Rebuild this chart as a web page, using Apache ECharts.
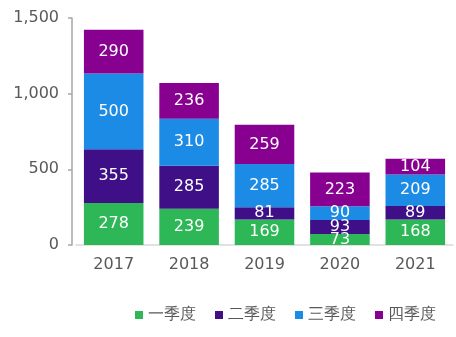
<!DOCTYPE html>
<html>
<head>
<meta charset="utf-8">
<script src="https://cdn.jsdelivr.net/npm/echarts@6/dist/echarts.min.js"></script>
<style>
html,body{margin:0;padding:0;background:#fff;}
#chart{width:456px;height:337px;}
</style>
</head>
<body>
<div id="chart"></div>
<script>
const years = ['2017', '2018', '2019', '2020', '2021'];
const q1 = [278, 239, 169, 73, 168];
const q2 = [355, 285, 81, 93, 89];
const q3 = [500, 310, 285, 90, 209];
const q4 = [290, 236, 259, 223, 104];
const seriesNames = ['一季度', '二季度', '三季度', '四季度'];
const colors = ['#2db757', '#3f0f87', '#1b8be5', '#880090'];
const yTicks = { min: 0, max: 1500, interval: 500 };

const font = 'DejaVu Sans, Verdana, sans-serif';
const chart = echarts.init(document.getElementById('chart'));

const mk = (name, data, i) => ({
  name, type: 'bar', stack: 'total', data,
  barWidth: '79%',
  itemStyle: { color: colors[i] },
  label: { show: true, position: 'inside', color: '#fff', fontSize: 16, fontFamily: font },
  emphasis: { disabled: true }
});

chart.setOption({
  animation: false,
  color: colors,
  grid: { left: 76, right: 3, top: 18, bottom: 92, containLabel: false },
  legend: {
    top: 302, left: 130,
    icon: 'rect', itemWidth: 8, itemHeight: 8, itemGap: 19,
    textStyle: { color: '#595959', fontSize: 16, fontFamily: font },
    data: seriesNames
  },
  xAxis: {
    type: 'category', data: years,
    axisLine: { lineStyle: { color: '#d9d9d9', width: 1.5 } },
    axisTick: { show: false },
    axisLabel: { color: '#595959', fontSize: 16, fontFamily: font, margin: 12 }
  },
  yAxis: {
    type: 'value', min: yTicks.min, max: yTicks.max, interval: yTicks.interval,
    offset: 4,
    axisLine: { show: true, lineStyle: { color: '#a6a6a6', width: 1.5 } },
    axisTick: { show: true, length: 4, lineStyle: { color: '#a6a6a6', width: 1.5 } },
    splitLine: { show: false },
    axisLabel: {
      color: '#595959', fontSize: 16, fontFamily: font, margin: 13,
      formatter: v => v.toLocaleString('en-US')
    }
  },
  series: [mk(seriesNames[0], q1, 0), mk(seriesNames[1], q2, 1), mk(seriesNames[2], q3, 2), mk(seriesNames[3], q4, 3)]
});
</script>
</body>
</html>
